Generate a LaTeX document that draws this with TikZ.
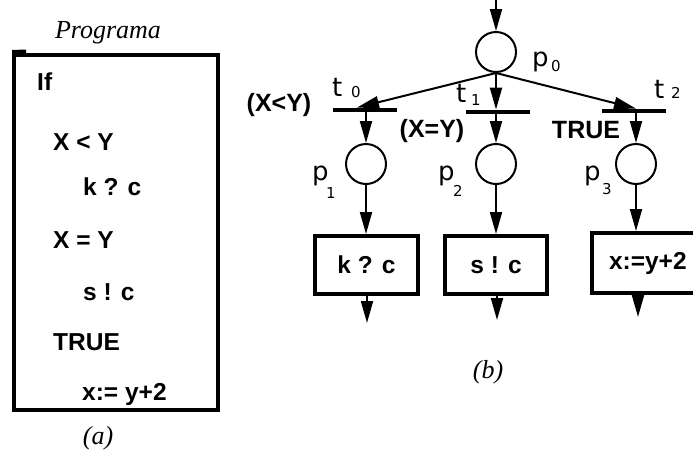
\documentclass[tikz,border=0pt]{standalone}
\usepackage{fontspec}
\setmainfont{Liberation Serif}
\newfontfamily\asans{Liberation Sans}
\newfontfamily\dvs{DejaVu Sans}
\usetikzlibrary{arrows.meta}
\begin{document}
\begin{tikzpicture}[x=1pt,y=-1pt,
  conn/.style={line width=2pt,-{Triangle[length=22pt,width=12pt]}},
  place/.style={circle,draw,line width=2pt,minimum size=40pt,inner sep=0pt},
  bar/.style={fill=black,minimum width=64pt,minimum height=4.5pt,inner sep=0pt},
  stmt/.style={draw,line width=4pt,inner sep=0pt,font=\asans\bfseries\fontsize{24.5}{28}\selectfont},
  code/.style={anchor=base west,inner sep=0pt,font=\asans\bfseries\fontsize{24.5}{28}\selectfont},
  cond/.style={inner sep=0pt,font=\asans\bfseries\fontsize{25}{28}\selectfont},
  lbl/.style={anchor=base west,inner sep=0pt,font=\dvs\fontsize{26}{30}\selectfont},
  sub/.style={anchor=base west,inner sep=0pt,font=\dvs\fontsize{15}{17}\selectfont},
  capt/.style={inner sep=0pt,font=\itshape\fontsize{26}{30}\selectfont}
]
\useasboundingbox (0,0) rectangle (693,453);
\clip (0,0) rectangle (693,453);

% ---- (a) program ----
\node[capt,anchor=base] (prog) at (108,38) {Programa};
\draw[line width=4pt] (14,55) rectangle (218,410);
\fill (12,50) -- (26,49.5) -- (26,54) -- (12,56) -- cycle;
\node[code] (l1) at (37,90) {If};
\node[code] (l2) at (53,150) {X < Y};
\node[code] (l3) at (83,195) {k ? c};
\node[code] (l4) at (53,248) {X = Y};
\node[code] (l5) at (83,300) {s ! c};
\node[code] (l6) at (53,350) {TRUE};
\node[code] (l7) at (82,400) {x:= y+2};
\node[capt] (capa) at (98,438) {(a)};

% ---- (b) Petri net ----
\coordinate (in0) at (496,0);
\node[place] (p0) at (496,52) {};
\node[bar] (t0) at (365,110) {};
\node[bar] (t1) at (498,112) {};
\node[bar] (t2) at (633.5,111) {};
\node[place] (p1) at (366,164) {};
\node[place] (p2) at (496,164) {};
\node[place] (p3) at (636,164) {};
\node[stmt,minimum width=103pt,minimum height=58pt] (b1) at (366.5,265) {k ? c};
\node[stmt,minimum width=102pt,minimum height=58pt] (b2) at (496,265) {s ! c};
\node[stmt,minimum width=121pt,minimum height=60pt,text width=117pt,align=left] (b3) at (652.5,263) {\hspace{15pt}x:=y+2};
\coordinate (e1) at (367,323);
\coordinate (e2) at (497,320);
\coordinate (e3) at (638,317);

\draw[conn] (in0) -- (p0.north);
\draw[conn] (p0.south) -- ([xshift=-8pt]t0.north);
\draw[conn] (p0.south) -- (p0 |- t1.north);
\draw[conn] (p0.south) -- ([xshift=2.5pt]t2.north);
\draw[conn] (p1 |- t0.center) -- (p1.north);
\draw[conn] (p2 |- t1.center) -- (p2.north);
\draw[conn] (p3 |- t2.center) -- (p3.north);
\draw[conn] (p1.south) -- (p1 |- b1.north);
\draw[conn] (p2.south) -- (p2 |- b2.north);
\draw[conn] (p3.south) -- (p3 |- b3.north);
\draw[conn] (e1 |- b1.south) -- (e1);
\draw[conn] (e2 |- b2.south) -- (e2);
\draw[conn] (e3 |- b3.south) -- (e3);

% labels
\node[lbl] (p0l) at (532,66) {p};
\node[sub] (p0s) at (551,71) {0};
\node[lbl] (p1l) at (312,180) {p};
\node[sub] (p1s) at (326,198) {1};
\node[lbl] (p2l) at (438,180) {p};
\node[sub] (p2s) at (453,196) {2};
\node[lbl] (p3l) at (584,180) {p};
\node[sub] (p3s) at (602,194) {3};
\node[lbl] (t0l) at (332,96) {t};
\node[sub] (t0s) at (351,97) {0};
\node[lbl] (t1l) at (456,102) {t};
\node[sub] (t1s) at (471,105) {1};
\node[lbl] (t2l) at (654,98) {t};
\node[sub] (t2s) at (671,98) {2};
\node[cond] (c0) at (279,105) {(X<Y)};
\node[cond] (c1) at (432,131) {(X=Y)};
\node[cond] (c2) at (586,130) {TRUE};
\node[capt] (capb) at (488,372) {(b)};
\end{tikzpicture}
\end{document}
